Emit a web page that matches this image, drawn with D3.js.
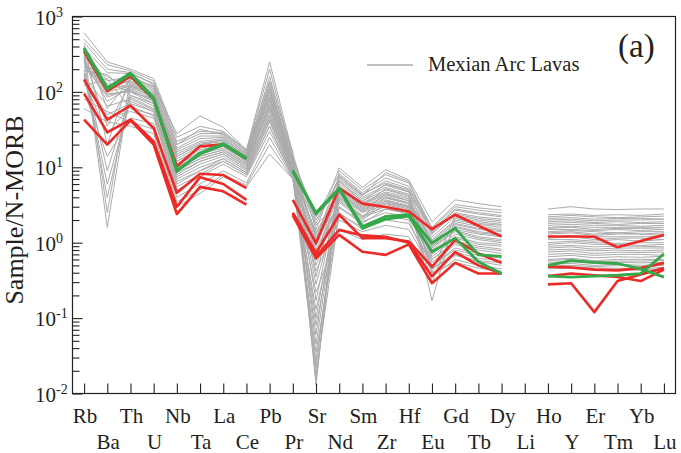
<!DOCTYPE html>
<html>
<head>
<meta charset="utf-8">
<script src="https://cdn.jsdelivr.net/npm/d3@7"></script>
<style>
  html, body { margin: 0; padding: 0; background: #fff; }
  svg { display: block; }
  text { font-family: 'Liberation Serif', 'Tinos', 'Times New Roman', Times, 'DejaVu Serif', 'Noto Serif', serif; }
</style>
</head>
<body>
<svg id="chart" width="681" height="453"></svg>
<script>
// Element order along the x axis (N-MORB normalised spider diagram)
const elements = ["Rb","Ba","Th","U","Nb","Ta","La","Ce","Pb","Pr","Sr","Nd","Sm","Zr","Hf","Eu","Gd","Tb","Dy","Li","Ho","Y","Er","Tm","Yb","Lu"];

// Decade exponents for the y axis labels
const yExponents = [-2, -1, 0, 1, 2, 3];

// Mexican Arc lavas (grey field); null = not analysed
const arcLavas = [
  [610,250,200,150,25,35,30,17,250,15,1.5,9.8,5.4,9.3,6.8,1.9,3.7,3.3,3.0,null,2.8,3.0,2.8,2.75,2.8,2.8],
  [420,60,150,120,28,48,34,17,140,16,0.013,9.0,5.0,8.0,6.2,1.6,3.2,2.9,2.7,null,2.35,2.4,2.3,2.35,2.3,2.4],
  [380,180,175,130,20,28,28,16,100,13,2.2,8.2,4.6,7.2,5.6,1.55,3.0,2.7,2.5,null,2.2,2.3,2.2,2.15,2.2,2.25],
  [300,1.6,120,95,16,22,24,14.5,85,12,0.35,7.5,4.3,6.6,5.2,1.45,2.8,2.5,2.3,null,2.1,2.15,2.05,2.1,2.1,2.05],
  [350,140,160,110,18,26,26,15.5,120,12.5,1.1,7.8,4.4,6.2,5.0,1.4,2.7,2.4,2.2,null,2.0,2.05,1.95,2.0,2.0,2.05],
  [250,95,100,80,12,18,20,12.5,60,10,0.06,6.8,4.0,5.8,4.7,1.3,2.5,2.2,2.05,null,1.9,1.95,1.85,1.9,1.85,1.9],
  [500,230,190,140,22,30,29,16.5,200,13.5,1.8,7.2,4.2,8.5,6.5,1.35,2.4,2.1,1.95,null,1.8,1.85,1.8,1.75,1.8,1.8],
  [280,35,130,90,14,20,22,13.5,80,11,0.6,6.4,3.8,5.4,4.4,0.4,2.3,2.0,1.85,null,1.7,1.75,1.7,1.7,1.65,1.7],
  [330,120,140,100,15,21,23,14,110,11.5,0.022,6.0,3.6,5.0,4.2,1.2,2.2,1.9,1.75,null,1.6,1.65,1.6,1.6,1.6,1.6],
  [200,9,90,70,9,13,16,10.5,50,9,1.3,5.6,3.4,4.7,4.0,0.17,2.1,1.8,1.7,null,1.55,1.6,1.5,1.55,1.55,1.5],
  [450,200,180,125,20,32,27,15,160,12.5,0.17,5.4,3.3,4.5,3.8,1.1,2.0,1.75,1.6,null,1.5,1.5,1.45,1.5,1.45,1.5],
  [260,75,115,85,11,16,19,12,70,10,2.6,5.2,3.2,4.3,3.6,1.05,1.9,1.65,1.5,null,1.4,1.45,1.4,1.35,1.4,1.4],
  [230,160,105,75,10,15,18,11.5,65,9.5,0.1,5.0,3.0,4.1,3.4,1.0,1.8,1.55,1.45,null,1.35,1.4,1.3,1.35,1.3,1.35],
  [180,4,85,60,8,12,15,9.5,45,8.5,0.9,4.8,2.9,3.9,3.3,0.3,1.75,1.5,1.4,null,1.3,1.35,1.25,1.3,1.3,1.25],
  [310,110,125,90,13,19,21,13,90,10.5,0.045,4.6,2.8,3.7,3.1,0.95,1.65,1.4,1.3,null,1.2,1.25,1.2,1.2,1.2,1.2],
  [150,50,70,55,7,10,13,8.5,40,8,1.4,4.4,2.7,3.5,3.0,0.9,1.6,1.35,1.25,null,1.15,1.2,1.1,1.15,1.15,1.1],
  [240,85,110,80,10,14,17,11,75,9.5,0.5,4.2,2.6,3.4,2.9,0.85,1.5,1.3,1.2,null,1.1,1.1,1.05,1.1,1.05,1.1],
  [120,150,60,50,6,9,12,8,35,7.5,0.027,4.0,2.5,3.2,2.7,0.8,1.45,1.2,1.1,null,1.0,1.05,1.0,0.98,1.0,1.0],
  [400,20,165,115,17,24,25,14.5,130,12,2.0,6.6,3.5,6.0,4.8,0.9,1.4,1.15,1.05,null,0.95,1.0,0.95,0.95,0.92,0.95],
  [210,130,100,70,9.5,14,17,11,60,9,0.28,3.8,2.3,3.0,2.6,0.75,1.3,1.1,1.0,null,0.9,0.92,0.88,0.9,0.9,0.88],
  [160,65,80,58,7.5,11,14,9,48,8.2,0.8,3.6,2.2,2.8,2.5,0.7,1.2,1.0,0.95,null,0.85,0.88,0.82,0.85,0.85,0.85],
  [350,2.5,150,105,14,20,23,13.5,110,11,0.015,5.5,3.0,5.2,4.2,0.65,1.15,0.95,0.9,null,0.8,0.82,0.78,0.8,0.78,0.8],
  [270,100,120,85,11,15,19,12,85,10,1.2,4.6,2.6,4.4,3.6,0.6,1.05,0.9,0.82,null,0.75,0.78,0.72,0.75,0.74,0.75],
  [130,45,55,45,5,7.5,11,7.5,30,7.5,0.13,3.0,1.9,2.5,2.2,0.6,1.0,0.85,0.78,null,0.7,0.72,0.68,0.7,0.7,0.68],
  [190,170,90,65,8.5,12,15,9.5,55,8.5,0.7,3.4,2.0,3.3,2.8,0.55,0.95,0.8,0.72,null,0.65,0.68,0.63,0.65,0.64,0.66],
  [100,14,45,38,4,6,9,6.2,25,7.2,0.035,2.4,1.6,2.0,1.8,0.5,0.85,0.72,0.66,null,0.6,0.62,0.58,0.6,0.6,0.6],
  [220,90,105,75,9,13,16,10,65,9,1.7,3.6,2.1,3.6,3.0,0.5,0.8,0.68,0.62,null,0.58,0.6,0.56,0.57,0.57,0.58],
  [80,55,40,32,3.5,5,8,5.8,20,7.0,0.42,2.0,1.4,1.7,1.5,0.45,0.75,0.62,0.58,null,0.55,0.56,0.53,0.55,0.54,0.55],
  [170,6,75,55,6.5,9,13,8.5,42,7.8,0.08,2.9,1.8,2.8,2.4,0.45,0.7,0.58,0.54,null,0.52,0.53,0.5,0.52,0.5,0.52],
  [290,120,135,95,12,17,20,12.5,100,10,1.0,4.0,2.2,4.0,3.3,0.45,0.68,0.56,0.5,null,0.5,0.5,0.48,0.5,0.48,0.5],
  [60,40,35,28,3.0,4.5,7.5,5.5,15,7.0,0.22,1.5,1.1,1.3,1.2,0.35,0.6,0.5,0.45,null,0.47,0.48,0.46,0.46,0.45,0.47],
  [140,28,65,48,5.5,8,12,8,35,7.2,0.018,2.5,1.5,2.3,2.0,0.4,0.55,0.46,0.42,null,0.45,0.46,0.44,0.45,0.43,0.45]
];

// Studied samples drawn in red (no Pb or Li data)
const redSamples = [
  [346,102,161,79,10.3,19,20,13,null,3.7,0.99,5.3,3.3,2.97,2.6,1.51,2.35,1.68,1.21,null,1.21,1.21,1.2,0.87,1.05,1.27],
  [146,43,66,33,4.6,8.2,7.9,5.3,null,2.5,0.73,2.35,1.15,1.15,1.04,0.48,1.09,0.72,0.54,null,0.48,0.47,0.44,0.43,0.46,0.54],
  [95,29,43,22,3.0,7.4,6.0,3.7,null,2.4,0.66,1.48,1.25,1.2,1.0,0.36,0.75,0.5,0.39,null,0.36,0.39,0.37,0.35,0.31,0.44],
  [43,20,42,20,2.4,5.5,4.8,3.2,null,2.3,0.62,1.27,0.76,0.69,0.95,0.29,0.54,0.39,0.39,null,0.28,0.29,0.12,0.31,0.38,0.46]
];

// Studied samples drawn in green
const greenSamples = [
  [384,113,179,83,8.8,15.5,20.6,13.3,null,8.8,2.5,5.3,1.64,2.23,2.35,0.99,1.56,0.69,0.66,null,0.5,0.58,0.55,0.53,0.45,0.35],
  [370,108,172,80,9.2,15,20,13,null,9.2,2.4,5.1,1.55,2.05,2.25,0.76,1.15,0.56,0.39,null,0.36,0.35,0.36,0.37,0.39,0.71]
];

const legendLabel = "Mexian Arc Lavas";
const panelLabel = "(a)";
const yTitle = "Sample/N-MORB";
const serif = "'Liberation Serif', 'Tinos', 'Times New Roman', Times, 'DejaVu Serif', 'Noto Serif', serif";

const svg = d3.select("#chart").attr("font-family", serif);
const plot = { left: 72.5, right: 675.5, top: 16.5, bottom: 393.5 };

const x = d3.scalePoint().domain(elements).range([plot.left, plot.right]).padding(0.5);
const y = d3.scaleLog().domain([0.01, 1000]).range([plot.bottom, plot.top]);

const line = d3.line()
  .defined(d => d != null)
  .x((d, i) => x(elements[i]))
  .y(d => y(d));

// grey field
svg.append("g")
  .selectAll("path").data(arcLavas).join("path")
  .attr("d", line)
  .attr("fill", "none")
  .attr("stroke", "#ababab")
  .attr("stroke-width", 1)
  .attr("stroke-linejoin", "round");

// red samples
svg.append("g")
  .selectAll("path").data(redSamples).join("path")
  .attr("d", line)
  .attr("fill", "none")
  .attr("stroke", "#ec2a27")
  .attr("stroke-width", 2.6)
  .attr("stroke-linejoin", "round");

// green samples
svg.append("g")
  .selectAll("path").data(greenSamples).join("path")
  .attr("d", line)
  .attr("fill", "none")
  .attr("stroke", "#35a849")
  .attr("stroke-width", 2.8)
  .attr("stroke-linejoin", "round");

// frame
svg.append("rect")
  .attr("x", plot.left).attr("y", plot.top)
  .attr("width", plot.right - plot.left).attr("height", plot.bottom - plot.top)
  .attr("fill", "none").attr("stroke", "#222").attr("stroke-width", 1.2);

// y axis ticks (inward)
const majorTicks = yExponents.map(e => Math.pow(10, e));
const minorTicks = [];
yExponents.slice(0, -1).forEach(e => {
  for (let k = 2; k <= 9; k++) minorTicks.push(k * Math.pow(10, e));
});

const yMinor = svg.append("g")
  .attr("transform", `translate(${plot.left},0)`)
  .call(d3.axisLeft(y).tickValues(minorTicks).tickSize(-7).tickFormat(""));
const yMajor = svg.append("g")
  .attr("transform", `translate(${plot.left},0)`)
  .call(d3.axisLeft(y).tickValues(majorTicks).tickSize(-10).tickFormat(""));
[yMinor, yMajor].forEach(g => {
  g.select(".domain").remove();
  g.selectAll(".tick line").attr("stroke", "#222").attr("stroke-width", 1.1);
});

// x axis ticks (inward)
const xAxis = svg.append("g")
  .attr("transform", `translate(0,${plot.bottom})`)
  .call(d3.axisBottom(x).tickSize(-10).tickFormat(""));
xAxis.select(".domain").remove();
xAxis.selectAll(".tick line").attr("stroke", "#222").attr("stroke-width", 1.1);

// y tick labels: 10 with superscript exponent
const yLabels = svg.append("g").attr("fill", "#231f20");
yExponents.forEach(e => {
  const t = yLabels.append("text")
    .attr("x", 35)
    .attr("y", y(Math.pow(10, e)) + 8)
    .attr("font-family", serif)
    .attr("font-size", 21);
  t.append("tspan").text("10");
  t.append("tspan").attr("font-size", 14).attr("dy", -8).text(String(e));
});

// x tick labels in two staggered rows
svg.append("g")
  .selectAll("text").data(elements).join("text")
  .attr("x", d => x(d) + 1)
  .attr("y", (d, i) => i % 2 === 0 ? 422.5 : 449)
  .attr("text-anchor", "middle")
  .attr("font-family", serif)
  .attr("font-size", 21)
  .attr("fill", "#231f20")
  .text(d => d);

// y axis title
svg.append("text")
  .attr("transform", `translate(22.5,210) rotate(-90)`)
  .attr("text-anchor", "middle")
  .attr("font-family", serif)
  .attr("font-size", 26)
  .attr("fill", "#231f20")
  .text(yTitle);

// legend
svg.append("line")
  .attr("x1", 367).attr("x2", 413).attr("y1", 65).attr("y2", 65)
  .attr("stroke", "#ababab").attr("stroke-width", 1.5);
svg.append("text")
  .attr("x", 428).attr("y", 70.5)
  .attr("font-family", serif)
  .attr("font-size", 20.5)
  .attr("fill", "#231f20")
  .text(legendLabel);

// panel label
svg.append("text")
  .attr("x", 618).attr("y", 56.5)
  .attr("font-family", serif)
  .attr("font-size", 33)
  .attr("fill", "#231f20")
  .text(panelLabel);
</script>
</body>
</html>
